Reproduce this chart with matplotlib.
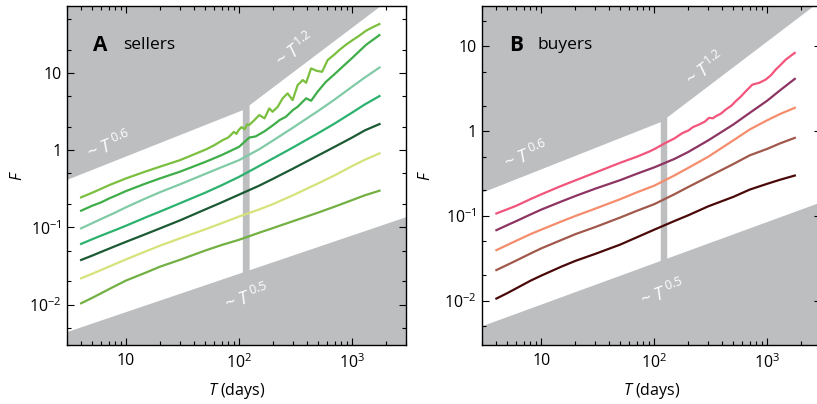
import matplotlib
matplotlib.use('Agg')
import matplotlib.pyplot as plt
from matplotlib.ticker import LogLocator, NullFormatter

plt.rcParams['font.family'] = ['Open Sans', 'DejaVu Sans']
plt.rcParams['mathtext.fontset'] = 'custom'
plt.rcParams['mathtext.rm'] = 'Open Sans'
plt.rcParams['mathtext.it'] = 'Open Sans:italic'
plt.rcParams['mathtext.bf'] = 'Open Sans:bold'

# ---- data ----
T_grid = [4, 5, 6, 8, 10, 15, 20, 30, 50, 70, 100, 150, 200, 300, 500, 700, 1000, 1300, 1750]

# panel A: sellers
A1_T = [4, 5, 6, 7.1, 10, 15, 20, 30, 40, 51, 60, 72, 80, 85, 90, 95, 99, 105, 112, 118, 123,
        135, 151, 168, 185, 198, 220, 243, 269, 298, 330, 366, 392, 434, 486, 543, 608, 690,
        772, 880, 1012, 1150, 1330, 1530, 1745]
A1_F = [0.244, 0.28, 0.315, 0.352, 0.43, 0.53, 0.61, 0.74, 0.88, 1.02, 1.15, 1.35, 1.45, 1.58,
        1.72, 1.62, 1.81, 1.98, 1.86, 2.15, 2.11, 2.4, 2.84, 2.57, 3.46, 3.13, 3.63, 4.67, 5.41,
        4.43, 6.93, 8.05, 7.43, 11.4, 10.6, 10.3, 14.6, 17.0, 19.7, 23.0, 26.5, 30.0, 35.0,
        39.0, 42.7]
A2_T = [4, 5, 6, 7.1, 8, 10, 15, 20, 30, 50, 70, 100, 110, 123, 140, 168, 200, 228, 260, 300,
        330, 392, 434, 495, 585, 700, 800, 1000, 1330, 1745]
A2_F = [0.164, 0.19, 0.21, 0.237, 0.255, 0.295, 0.37, 0.43, 0.525, 0.7, 0.86, 1.1, 1.25, 1.45,
        1.5, 1.75, 2.1, 2.44, 2.7, 3.3, 3.63, 4.67, 4.34, 5.68, 7.6, 9.6, 11.5, 15.5, 23.0, 30.7]
A3_F = [0.097, 0.113, 0.128, 0.155, 0.182, 0.238, 0.285, 0.36, 0.49, 0.6, 0.74, 1.02, 1.33,
        1.95, 3.2, 4.5, 6.6, 8.7, 11.7]
A4_F = [0.061, 0.07, 0.078, 0.092, 0.105, 0.135, 0.16, 0.205, 0.28, 0.35, 0.45, 0.62, 0.78,
        1.08, 1.65, 2.2, 3.05, 3.9, 5.0]
A5_F = [0.0378, 0.043, 0.048, 0.057, 0.065, 0.082, 0.097, 0.123, 0.17, 0.21, 0.265, 0.345,
        0.425, 0.575, 0.85, 1.1, 1.45, 1.8, 2.17]
A6_F = [0.0219, 0.025, 0.028, 0.0335, 0.0385, 0.049, 0.058, 0.072, 0.094, 0.113, 0.138, 0.17,
        0.2, 0.26, 0.37, 0.47, 0.62, 0.75, 0.906]
A7_F = [0.0104, 0.0122, 0.014, 0.0174, 0.0205, 0.026, 0.031, 0.038, 0.05, 0.059, 0.069, 0.085,
        0.098, 0.12, 0.155, 0.185, 0.225, 0.26, 0.298]

# panel B: buyers
B1_T = [4, 5, 6, 8, 10, 14.5, 20, 30, 50, 70, 90, 100, 126, 150, 177, 200, 220, 249, 280, 305,
        330, 349, 390, 428, 480, 525, 580, 644, 737, 845, 968, 1080, 1187, 1300, 1455, 1600, 1747]
B1_F = [0.107, 0.12, 0.132, 0.158, 0.18, 0.222, 0.263, 0.325, 0.425, 0.5, 0.575, 0.615, 0.73,
        0.82, 0.95, 1.02, 1.12, 1.2, 1.3, 1.44, 1.42, 1.5, 1.62, 1.8, 2.0, 2.26, 2.55, 2.96,
        3.55, 3.72, 4.07, 4.6, 5.34, 6.0, 7.0, 7.7, 8.4]
B2_F = [0.068, 0.078, 0.087, 0.104, 0.119, 0.148, 0.172, 0.21, 0.265, 0.315, 0.375, 0.47, 0.57,
        0.78, 1.2, 1.65, 2.3, 3.05, 4.15]
B3_F = [0.0395, 0.0455, 0.051, 0.061, 0.069, 0.086, 0.1, 0.122, 0.158, 0.19, 0.228, 0.3, 0.37,
        0.5, 0.78, 1.05, 1.35, 1.6, 1.89]
B4_F = [0.023, 0.0265, 0.0298, 0.036, 0.0415, 0.052, 0.061, 0.074, 0.096, 0.115, 0.138, 0.18,
        0.22, 0.29, 0.41, 0.52, 0.62, 0.72, 0.835]
B5_F = [0.0106, 0.0123, 0.014, 0.0172, 0.0198, 0.0252, 0.0295, 0.0357, 0.046, 0.056, 0.069,
        0.087, 0.102, 0.13, 0.168, 0.205, 0.24, 0.268, 0.30]

# scaling guides (~T^0.6 / ~T^1.2 / ~T^0.5 boundaries)
A_upper_left_T, A_upper_left_F = [3, 108], [0.41, 3.28]
A_upper_right_T, A_upper_right_F = [124, 1800, 3000], [3.8, 73, 73]
A_lower_T, A_lower_F = [3, 3000], [0.0044, 0.135]
B_upper_left_T, B_upper_left_F = [3, 114], [0.188, 1.28]
B_upper_right_T, B_upper_right_F = [130, 2590, 3000], [1.45, 30, 30]
B_lower_T, B_lower_F = [3, 3000], [0.005, 0.145]

x_ticks = [10, 100, 1000]
x_labels = ['10', r'$10^2$', r'$10^3$']
y_ticks = [0.01, 0.1, 1, 10]
y_labels = [r'$10^{-2}$', r'$10^{-1}$', '1', '10']

GRAY = '#bcbec0'
A_colors = ['#7bbf3e', '#3fae49', '#80cba6', '#2bb26e', '#1b5a33', '#d6e27a', '#72b043']
B_colors = ['#f2557b', '#8d3462', '#f58d6d', '#a0584b', '#4a0909']


def setup(ax, ylim, ul, ur, lo, right_minor):
    ax.set_xscale('log')
    ax.set_yscale('log')
    ax.set_xlim(3, 3000)
    ax.set_ylim(*ylim)
    bot, top = ylim
    # upper gray region joined to the vertical gap, as one polygon (no seams)
    xs = [ul[0][0]] + ul[0] + [ul[0][-1], ur[0][0]] + ur[0] + [ur[0][-1]]
    ys = [top] + ul[1] + [bot, bot] + ur[1] + [top]
    ax.fill(xs, ys, color=GRAY, lw=0, zorder=0)
    ax.fill([lo[0][0]] + lo[0] + [lo[0][-1]], [bot] + lo[1] + [bot], color=GRAY, lw=0, zorder=0)

    ax.set_xticks(x_ticks)
    ax.set_xticklabels(x_labels)
    ax.set_yticks(y_ticks)
    ax.set_yticklabels(y_labels)
    ax.xaxis.set_minor_locator(LogLocator(base=10, subs=range(2, 10), numticks=20))
    ax.yaxis.set_minor_locator(LogLocator(base=10, subs=(2, 5), numticks=20))
    ax.xaxis.set_minor_formatter(NullFormatter())
    ax.yaxis.set_minor_formatter(NullFormatter())
    ax.tick_params(which='both', direction='in', top=True, right=True, width=0.8,
                   labelsize=11.5)
    ax.tick_params(which='major', length=5)
    ax.tick_params(which='minor', length=3)
    ax.tick_params(axis='x', which='major', pad=6)
    ax.tick_params(axis='y', which='major', pad=4)
    if not right_minor:
        ax.tick_params(which='minor', right=False)
    for s in ax.spines.values():
        s.set_linewidth(1.0)

    ax.set_xlabel(r'$T$ (days)', fontsize=11.5)
    ax.set_ylabel(r'$F$', fontsize=11.5)
    ax.xaxis.set_label_coords(0.5, -0.105)


fig = plt.figure(figsize=(8.17, 4.04), dpi=100)
axA = fig.add_axes([0.0820, 0.146, 0.4149, 0.839])
axB = fig.add_axes([0.5903, 0.146, 0.4149, 0.839])

setup(axA, (0.003, 73), (A_upper_left_T, A_upper_left_F),
      (A_upper_right_T, A_upper_right_F), (A_lower_T, A_lower_F), True)
setup(axB, (0.003, 30), (B_upper_left_T, B_upper_left_F),
      (B_upper_right_T, B_upper_right_F), (B_lower_T, B_lower_F), False)
axA.yaxis.set_label_coords(-0.121, 0.5)
axB.yaxis.set_label_coords(-0.141, 0.5)

# curves
axA.plot(A1_T, A1_F, color=A_colors[0], lw=1.6, zorder=3)
axA.plot(A2_T, A2_F, color=A_colors[1], lw=1.6, zorder=3)
for F, c in zip([A3_F, A4_F, A5_F, A6_F, A7_F], A_colors[2:]):
    axA.plot(T_grid, F, color=c, lw=1.6, zorder=3)

axB.plot(B1_T, B1_F, color=B_colors[0], lw=1.6, zorder=3)
for F, c in zip([B2_F, B3_F, B4_F, B5_F], B_colors[1:]):
    axB.plot(T_grid, F, color=c, lw=1.6, zorder=3)

# guide labels
txt = dict(color='white', fontsize=13, ha='center', va='center', rotation_mode='anchor', zorder=2)
axA.text(7.1, 1.13, r'~ $T^{\,0.6}$', rotation=22, **txt)
axA.text(315, 19.7, r'~ $T^{1.2}$', rotation=37, **txt)
axA.text(118, 0.0121, r'~ $T^{\,0.5}$', rotation=19, **txt)
axB.text(7.3, 0.517, r'~ $T^{\,0.6}$', rotation=22, **txt)
axB.text(284, 5.34, r'~ $T^{1.2}$', rotation=37, **txt)
axB.text(118, 0.0121, r'~ $T^{\,0.5}$', rotation=20, **txt)

# panel titles
axA.text(0.077, 0.885, 'A', transform=axA.transAxes, fontsize=15, fontweight='bold', va='center')
axA.text(0.165, 0.885, 'sellers', transform=axA.transAxes, fontsize=12.5, va='center')
axB.text(0.079, 0.885, 'B', transform=axB.transAxes, fontsize=15, fontweight='bold', va='center')
axB.text(0.163, 0.885, 'buyers', transform=axB.transAxes, fontsize=12.5, va='center')

fig.savefig('out.png', dpi=100)
